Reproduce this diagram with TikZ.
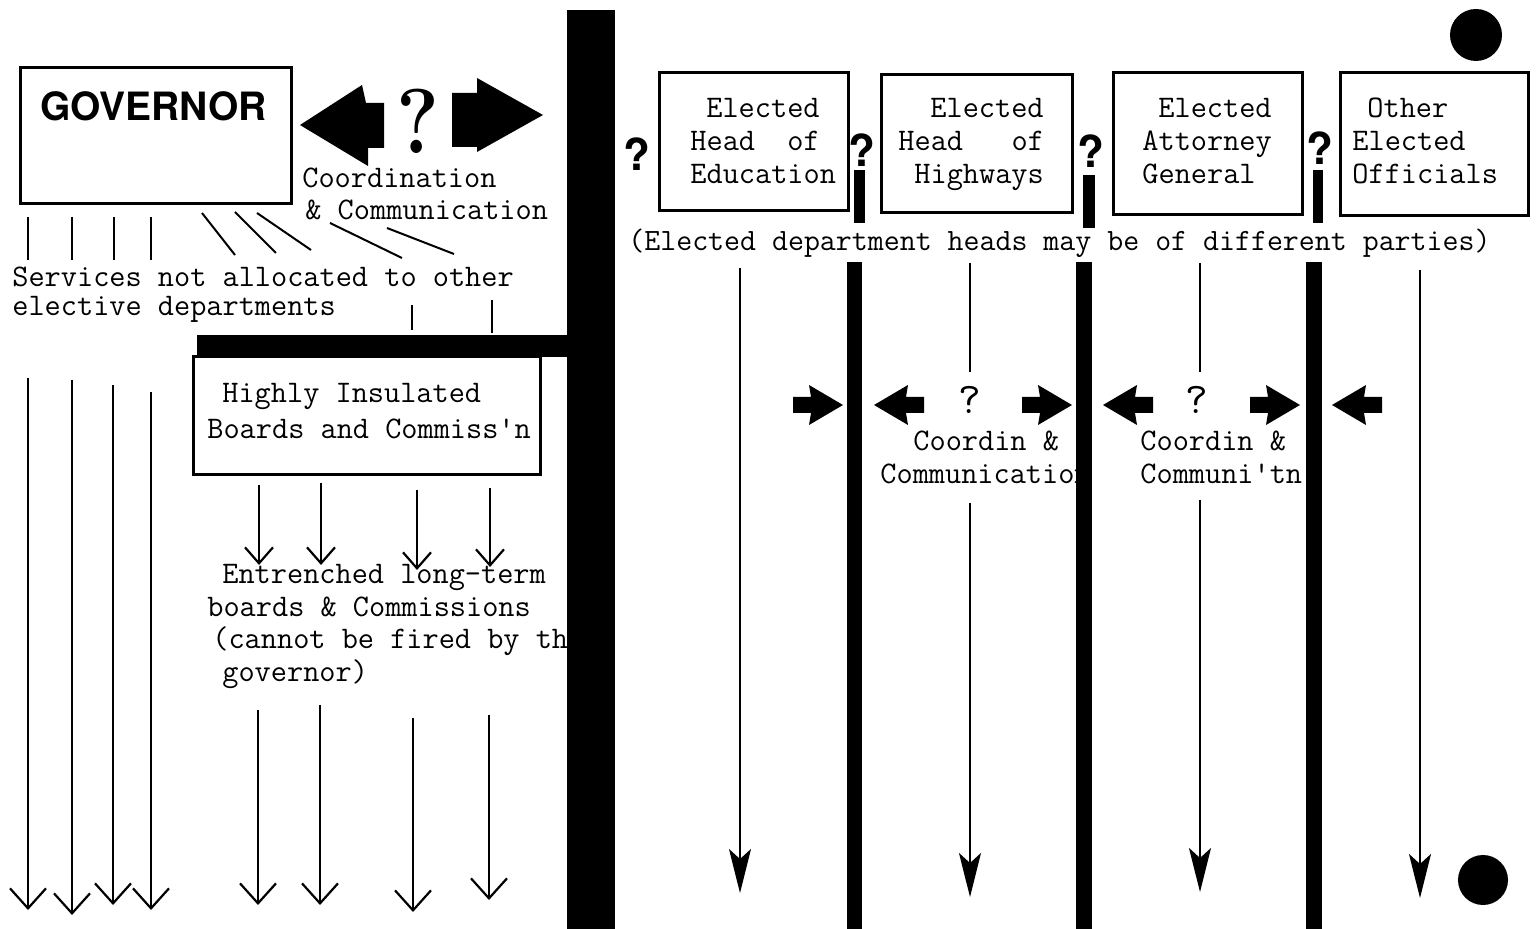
\documentclass[tikz,border=0pt]{standalone}
\usepackage{fontspec}
\newfontfamily\heros{TeX Gyre Heros}
\usetikzlibrary{arrows.meta}
\begin{document}
\begin{tikzpicture}[x=0.5pt,y=-0.5pt,
  tw/.style={font=\ttfamily\fontsize{15.7}{16.5}\selectfont, inner sep=0pt, anchor=base west},
  frame/.style={draw, line width=1.5pt, inner sep=0pt},
  thin/.style={line width=1pt},
  openarrow/.style={line width=1.1pt, -{Straight Barb[length=10pt,width=18pt,line width=1.1pt]}},
  smallopen/.style={line width=1.1pt, -{Straight Barb[length=8pt,width=14pt,line width=1.1pt]}},
  dart/.style={line width=1pt, -{Stealth[length=22pt,width=11pt,inset=5pt]}},
  boldq/.style={font=\heros\bfseries\fontsize{22}{22}\selectfont, inner sep=0pt},
  fatright/.pic={\fill (-50,-8) -- (-32,-8) -- (-34,-20) -- (0,0) -- (-34,20) -- (-32,8) -- (-50,8) -- cycle;},
  fatleft/.pic={\fill (50,-8) -- (32,-8) -- (34,-20) -- (0,0) -- (34,20) -- (32,8) -- (50,8) -- cycle;}]
\useasboundingbox (0,0) rectangle (1537,929);

% ---------- governor side ----------
\node[frame, minimum width=135.5pt, minimum height=68pt] (gov) at (155.5,136) {};
\node[font=\heros\bfseries\fontsize{19.5}{20}\selectfont, inner sep=0pt, anchor=base west] (govt) at (40,121) {GOVERNOR};

% big coordination arrows with question mark
\fill (300,125) -- (362,85) -- (366,103) -- (384,103) -- (384,148) -- (368,148) -- (368,166) -- cycle;
\fill (543,115) -- (477,78) -- (477,93) -- (452,93) -- (452,147) -- (477,147) -- (477,152) -- cycle;
\node[font=\rmfamily\bfseries\fontsize{46}{46}\selectfont, inner sep=0pt, xscale=0.88] (bigq) at (418,121) {?};
\node[tw] (coord1) at (302,188) {Coordination};
\node[tw] (coord2) at (305,220) {\& Communication};

% short strokes below the governor
\foreach \x [count=\i] in {28,72,114,151} {
  \coordinate (tk\i a) at (\x,217);
  \coordinate (tk\i b) at (\x,260);
  \draw[thin] (tk\i a) -- (tk\i b);
}
\foreach \xa/\ya/\xb/\yb [count=\i] in {202/213/235/255, 235/212/276/253, 257/213/311/250, 330/223/402/258, 387/228/454/254} {
  \coordinate (dg\i a) at (\xa,\ya);
  \coordinate (dg\i b) at (\xb,\yb);
  \draw[thin] (dg\i a) -- (dg\i b);
}
\node[tw] (serv1) at (12,287) {Services not allocated to other};
\node[tw] (serv2) at (12,316) {elective departments};
\coordinate (sk1a) at (412,305); \coordinate (sk1b) at (412,330);
\coordinate (sk2a) at (492,300); \coordinate (sk2b) at (492,333);
\draw[thin] (sk1a) -- (sk1b);
\draw[thin] (sk2a) -- (sk2b);

% long service arrows
\foreach \x/\ya/\yb [count=\i] in {28/378/910, 72/380/915, 113/385/905, 151/392/910, 258/710/905, 320/705/905, 413/718/912, 489/715/900} {
  \coordinate (sv\i a) at (\x,\ya);
  \coordinate (sv\i b) at (\x,\yb);
  \draw[openarrow] (sv\i a) -- (sv\i b);
}

% insulated boards
\fill (197,335) rectangle (570,357);
\node[frame, minimum width=173.5pt, minimum height=59pt] (hib) at (366.5,416) {};
\node[tw] (hib1) at (222,403) {Highly Insulated};
\node[tw] (hib2) at (207,439) {Boards and Commiss'n};
\foreach \x/\ya/\yb [count=\i] in {259/485/565, 321/483/565, 417/490/570, 490/488/567} {
  \coordinate (ib\i a) at (\x,\ya);
  \coordinate (ib\i b) at (\x,\yb);
  \draw[smallopen] (ib\i a) -- (ib\i b);
}
\node[tw] (ent1) at (222,584) {Entrenched long-term};
\node[tw] (ent2) at (207,617) {boards \& Commissions};
\node[tw] (ent3) at (212,649) {(cannot be fired by the};
\node[tw] (ent4) at (222,682) {governor)};

% main dividing bar
\fill (567,10) rectangle (615,929);

% ---------- elected officials ----------
\node[frame, minimum width=94.5pt, minimum height=69pt] (edu) at (753.5,142) {};
\node[frame, minimum width=95.5pt, minimum height=69pt] (hwy) at (976.5,144) {};
\node[frame, minimum width=94.5pt, minimum height=71pt] (atg) at (1207.5,144) {};
\node[frame, minimum width=94pt, minimum height=71.5pt] (oth) at (1434,144.5) {};

\node[tw] (edu1) at (706,118) {Elected};
\node[tw] (edu2) at (690,151) {Head\ \ of};
\node[tw] (edu3) at (690,184) {Education};
\node[tw] (hwy1) at (930,118) {Elected};
\node[tw] (hwy2) at (898,151) {Head\ \ \ of};
\node[tw] (hwy3) at (914,184) {Highways};
\node[tw] (atg1) at (1158,118) {Elected};
\node[tw] (atg2) at (1142,151) {Attorney};
\node[tw] (atg3) at (1142,184) {General};
\node[tw] (oth1) at (1367,118) {Other};
\node[tw] (oth2) at (1352,151) {Elected};
\node[tw] (oth3) at (1352,184) {Officials};

\node[boldq] (q0) at (637,154) {?};
\node[boldq] (q1) at (862,150) {?};
\node[boldq] (q2) at (1091,151) {?};
\node[boldq] (q3) at (1320,148) {?};
\fill (854,170) rectangle (865,223);
\fill (1083,175) rectangle (1095,228);
\fill (1313,170) rectangle (1323,223);

\node[tw, font=\ttfamily\fontsize{15.5}{16}\selectfont] (note) at (628,251) {(Elected department heads may be of different parties)};

% coordination between elected offices
\node[tw] (cc1) at (913,451) {Coordin \&};
\node[tw] (cc2) at (880,484) {Communication};
\node[tw] (cc3) at (1140,451) {Coordin \&};
\node[tw] (cc4) at (1140,484) {Communi'tn};
\node[font=\ttfamily\fontsize{22}{22}\selectfont, inner sep=0pt] (mq1) at (970,400) {?};
\node[font=\ttfamily\fontsize{22}{22}\selectfont, inner sep=0pt] (mq2) at (1197,400) {?};
\pic at (843,405) {fatright};
\pic at (874,405) {fatleft};
\pic at (1072,405) {fatright};
\pic at (1103,405) {fatleft};
\pic at (1300,405) {fatright};
\pic at (1332,405) {fatleft};

% separating bars between elected offices
\fill (847,262) rectangle (862,929);
\fill (1076,262) rectangle (1092,929);
\fill (1306,262) rectangle (1322,929);

% service arrows of elected offices
\coordinate (ea) at (740,268); \coordinate (eb) at (740,893);
\coordinate (ha) at (970,263); \coordinate (hb) at (970,372);
\coordinate (hc) at (970,503); \coordinate (hd) at (970,897);
\coordinate (aa) at (1200,263); \coordinate (ab) at (1200,372);
\coordinate (ac) at (1200,500); \coordinate (ad) at (1200,892);
\coordinate (oa) at (1420,270); \coordinate (ob) at (1420,898);
\draw[dart] (ea) -- (eb);
\draw[thin] (ha) -- (hb);
\draw[dart] (hc) -- (hd);
\draw[thin] (aa) -- (ab);
\draw[dart] (ac) -- (ad);
\draw[dart] (oa) -- (ob);

% corner dots
\fill (1476,35) circle[radius=26];
\fill (1483,880) circle[radius=25];
\end{tikzpicture}
\end{document}
